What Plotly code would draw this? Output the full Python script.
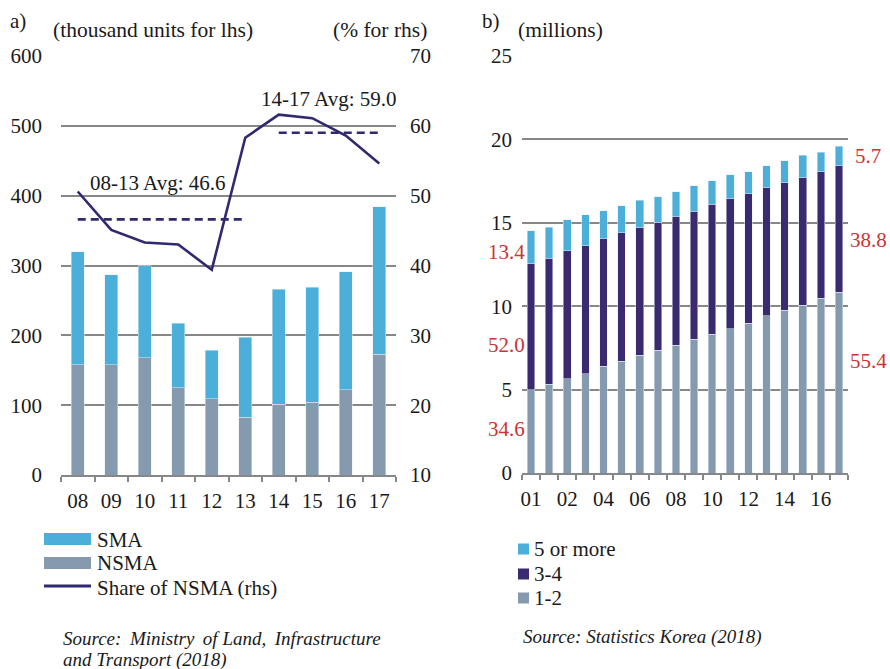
import plotly.graph_objects as go

# ---- panel a) data ----
years_a = ["08", "09", "10", "11", "12", "13", "14", "15", "16", "17"]
nsma = [158, 158, 168, 125, 109, 83, 101, 104, 122, 173]
sma = [162, 129, 132, 92, 70, 114, 165, 165, 169, 211]
share_nsma = [50.6, 45.1, 43.3, 43.0, 39.4, 58.3, 61.6, 61.1, 58.6, 54.6]
avg_0813_years = ["08", "13"]
avg_0813 = [46.6, 46.6]
avg_1417_years = ["14", "17"]
avg_1417 = [59.0, 59.0]

# ---- panel b) data ----
years_b = [str(y) for y in range(2000, 2018)]
ticktext_b = ["01", "", "02", "", "04", "", "06", "", "08", "",
              "10", "", "12", "", "14", "", "16", ""]
hh_1_2 = [4.98, 5.32, 5.64, 5.96, 6.39, 6.71, 7.05, 7.37, 7.67, 8.03,
          8.33, 8.65, 8.99, 9.43, 9.75, 10.07, 10.49, 10.83]
hh_3_4 = [7.57, 7.55, 7.67, 7.67, 7.66, 7.68, 7.64, 7.66, 7.68, 7.64,
          7.78, 7.78, 7.76, 7.66, 7.64, 7.64, 7.56, 7.60]
hh_5p = [1.98, 1.86, 1.86, 1.84, 1.66, 1.62, 1.66, 1.52, 1.52, 1.54,
         1.40, 1.44, 1.30, 1.32, 1.32, 1.35, 1.19, 1.16]
shares_first = ["13.4", "52.0", "34.6"]
shares_last = ["5.7", "38.8", "55.4"]

W, H = 890, 669
FONT = "Liberation Serif"
FS = 21
TXT = "#1a1a1a"
GRID = "#878787"
BLUE = "#4bafd9"
GREY = "#8599af"
NAVY = "#3a2b71"
LINE = "#30296f"
RED = "#cc3333"


def fx(px):
    return px / W


def fy(py):
    return 1 - py / H


fig = go.Figure()

# panel a bars
fig.add_trace(go.Bar(x=years_a, y=nsma, marker_color=GREY, width=0.39,
                     xaxis="x", yaxis="y", showlegend=False))
fig.add_trace(go.Bar(x=years_a, y=sma, marker_color=BLUE, width=0.39,
                     xaxis="x", yaxis="y", showlegend=False))
# share line (rhs)
fig.add_trace(go.Scatter(x=years_a, y=share_nsma, mode="lines",
                         line=dict(color=LINE, width=2.6),
                         xaxis="x", yaxis="y2", showlegend=False))
fig.add_trace(go.Scatter(x=avg_0813_years, y=avg_0813, mode="lines",
                         line=dict(color=LINE, width=2.6, dash="8px,5px"),
                         xaxis="x", yaxis="y2", showlegend=False))
fig.add_trace(go.Scatter(x=avg_1417_years, y=avg_1417, mode="lines",
                         line=dict(color=LINE, width=2.6, dash="8px,5px"),
                         xaxis="x", yaxis="y2", showlegend=False))

# panel b bars
for vals, col in [(hh_1_2, GREY), (hh_3_4, NAVY), (hh_5p, BLUE)]:
    fig.add_trace(go.Bar(x=years_b, y=vals, marker_color=col, width=0.42,
                         xaxis="x2", yaxis="y3", showlegend=False))

tickfont = dict(family=FONT, size=FS, color=TXT)

fig.update_layout(
    width=W, height=H,
    margin=dict(l=0, r=0, t=0, b=0, autoexpand=False),
    paper_bgcolor="white", plot_bgcolor="white",
    barmode="stack",
    font=dict(family=FONT, size=FS, color=TXT),
    xaxis=dict(domain=[fx(61), fx(396)], type="category",
               categoryorder="array", categoryarray=years_a,
               anchor="y", showline=True, linecolor=GRID, linewidth=1.5,
               ticks="outside", tickson="boundaries", ticklen=5,
               tickcolor=GRID, tickwidth=1.5, showgrid=False, tickangle=0,
               automargin=False, tickfont=tickfont, ticklabelstandoff=6),
    yaxis=dict(domain=[fy(475), fy(56)], range=[0, 600], dtick=100,
               anchor="x", showgrid=True, gridcolor=GRID, gridwidth=1.5,
               zeroline=False, showline=False, ticks="", automargin=False,
               tickfont=tickfont, ticklabelstandoff=18),
    yaxis2=dict(domain=[fy(475), fy(56)], range=[10, 70], dtick=10,
                overlaying="y", side="right", anchor="x", showgrid=False,
                zeroline=False, showline=False, ticks="", automargin=False,
                tickfont=tickfont, ticklabelstandoff=13),
    xaxis2=dict(domain=[fx(522), fx(848)], type="category",
                categoryorder="array", categoryarray=years_b,
                tickmode="array", tickvals=years_b, ticktext=ticktext_b,
                anchor="y3", showline=True, linecolor=GRID, linewidth=1.5,
                ticks="outside", tickson="boundaries", ticklen=5,
                tickcolor=GRID, tickwidth=1.5, showgrid=False, tickangle=0,
                automargin=False, tickfont=tickfont, ticklabelstandoff=6),
    yaxis3=dict(domain=[fy(473), fy(56)], range=[0, 25], dtick=5,
                anchor="x2", showgrid=True, gridcolor=GRID, gridwidth=1.5,
                zeroline=False, showline=False, ticks="", automargin=False,
                tickfont=tickfont, ticklabelstandoff=9),
)

ann = []


def text(x, y, s, xanchor="left", color=TXT, size=FS, italic=False):
    if italic:
        s = "<i>" + s + "</i>"
    ann.append(dict(x=fx(x), y=fy(y), xref="paper", yref="paper", text=s,
                    showarrow=False, xanchor=xanchor, yanchor="middle",
                    font=dict(family=FONT, size=size, color=color)))


# headers
text(8, 21, "a)")
text(51, 30, "(thousand units for lhs)", size=21.5)
text(429, 30, "(% for rhs)", xanchor="right", size=21.5)
text(480, 21, "b)")
text(516, 30, "(millions)", size=21.5)

# average labels
text(158, 183, "08-13 Avg: 46.6", xanchor="center")
text(329, 99, "14-17 Avg: 59.0", xanchor="center")

# share labels panel b
for s, yy in zip(shares_first, [252, 345, 429]):
    text(506, yy, s, xanchor="center", color=RED)
for s, yy in zip(shares_last, [156, 240, 361]):
    text(868, yy, s, xanchor="center", color=RED)

# legend panel a
shapes = []
shapes.append(dict(type="rect", xref="paper", yref="paper", x0=fx(44), x1=fx(91),
                   y0=fy(545), y1=fy(533), fillcolor=BLUE, line_width=0))
shapes.append(dict(type="rect", xref="paper", yref="paper", x0=fx(44), x1=fx(91),
                   y0=fy(569), y1=fy(557), fillcolor=GREY, line_width=0))
shapes.append(dict(type="line", xref="paper", yref="paper", x0=fx(44), x1=fx(91),
                   y0=fy(586), y1=fy(586), line=dict(color=LINE, width=3)))
text(95, 540, "SMA")
text(95, 563, "NSMA")
text(95, 588, "Share of NSMA (rhs)")

# legend panel b
for col, yy, lab in [(BLUE, 549, "5 or more"), (NAVY, 574, "3-4"), (GREY, 598, "1-2")]:
    shapes.append(dict(type="rect", xref="paper", yref="paper", x0=fx(518), x1=fx(529),
                       y0=fy(yy + 5.5), y1=fy(yy - 5.5), fillcolor=col, line_width=0))
    text(532, yy, lab)

# sources
text(61, 638, "Source:\u2009 Ministry\u2009 of Land,\u2009 Infrastructure", size=19, italic=True)
text(61, 659.5, "and Transport (2018)", size=19, italic=True)
text(521, 637, "Source: Statistics Korea (2018)", size=19, italic=True)

fig.update_layout(annotations=ann, shapes=shapes)

# drop the default page margin so the figure sits at the window corner
fig.write_html("out.html",
               config={"displayModeBar": False},
               post_script="document.body.style.margin='0';"
                           "document.body.style.overflow='hidden';")
